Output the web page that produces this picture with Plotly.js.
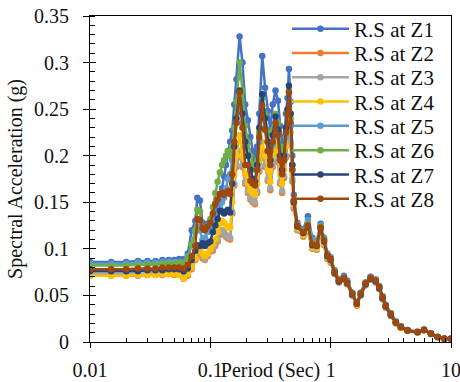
<!DOCTYPE html>
<html>
<head>
<meta charset="utf-8">
<script src="https://cdn.plot.ly/plotly-3.0.1.min.js"></script>
<style>
  html, body { margin: 0; padding: 0; background: #fff; }
  #chart { width: 460px; height: 382px; }
</style>
</head>
<body>
<div id="chart"></div>
<script>
// Periods (s) at which the response spectra are evaluated
const periods = [
  0.01, 0.015, 0.02, 0.025, 0.03, 0.035, 0.04, 0.045, 0.05, 0.055, 0.06,
  0.065, 0.07, 0.075, 0.078, 0.082, 0.086, 0.09, 0.095, 0.1,
  0.105, 0.11, 0.115, 0.12, 0.125, 0.13, 0.135, 0.14, 0.146, 0.152,
  0.158, 0.165, 0.175, 0.185, 0.195, 0.205, 0.215, 0.225, 0.235, 0.245,
  0.255, 0.27, 0.285, 0.3, 0.315, 0.33, 0.348, 0.365, 0.38, 0.395,
  0.41, 0.425, 0.438, 0.45, 0.465, 0.48, 0.494,
  0.528, 0.592, 0.647, 0.704, 0.764, 0.825, 0.88, 0.939, 1.0, 1.08,
  1.17, 1.29, 1.37, 1.51, 1.65, 1.78, 1.95, 2.15, 2.37, 2.53,
  2.7, 2.87, 3.16, 3.48, 3.83, 4.35, 5.27, 5.97, 6.81, 7.74, 8.8, 10
];

// Spectral acceleration (g) at each zone
const saZ1 = [
  0.086, 0.086, 0.086, 0.087, 0.087, 0.087, 0.088, 0.088, 0.088, 0.089, 0.089,
  0.095, 0.12, 0.13, 0.155, 0.152, 0.128, 0.124, 0.127, 0.13,
  0.135, 0.142, 0.148, 0.155, 0.165, 0.178, 0.19, 0.205, 0.215, 0.227,
  0.255, 0.282, 0.328, 0.300, 0.255, 0.238, 0.220, 0.205, 0.195, 0.21,
  0.245, 0.307, 0.273, 0.248, 0.228, 0.255, 0.270, 0.259, 0.232, 0.21,
  0.22, 0.245, 0.262, 0.293, 0.258, 0.2, 0.158,
  0.128, 0.121, 0.135, 0.112, 0.108, 0.127, 0.112, 0.095, 0.091, 0.077,
  0.067, 0.071, 0.066, 0.053, 0.042, 0.053, 0.064, 0.070, 0.067, 0.060,
  0.049, 0.040, 0.031, 0.022, 0.017, 0.013, 0.011, 0.0135, 0.0093, 0.0056, 0.0037, 0.0036
];
const saZ2 = [
  0.071, 0.071, 0.071, 0.071, 0.072, 0.072, 0.072, 0.073, 0.072, 0.072, 0.068,
  0.071, 0.078, 0.088, 0.095, 0.094, 0.09, 0.088, 0.092, 0.097,
  0.098, 0.103, 0.108, 0.115, 0.118, 0.116, 0.113, 0.111, 0.11, 0.138,
  0.168, 0.188, 0.202, 0.188, 0.17, 0.16, 0.153, 0.15, 0.148, 0.16,
  0.183, 0.203, 0.188, 0.173, 0.163, 0.188, 0.205, 0.193, 0.17, 0.16,
  0.176, 0.198, 0.215, 0.235, 0.212, 0.172, 0.143,
  0.120, 0.113, 0.118, 0.100, 0.099, 0.117, 0.104, 0.089, 0.085, 0.073,
  0.064, 0.067, 0.062, 0.050, 0.039, 0.050, 0.061, 0.067, 0.064, 0.057,
  0.046, 0.037, 0.028, 0.020, 0.015, 0.0118, 0.0103, 0.0125, 0.0086, 0.0052, 0.0034, 0.0034
];
const saZ3 = [
  0.073, 0.073, 0.073, 0.073, 0.074, 0.074, 0.074, 0.075, 0.074, 0.074, 0.070,
  0.073, 0.080, 0.090, 0.098, 0.097, 0.093, 0.089, 0.094, 0.099,
  0.1, 0.105, 0.11, 0.117, 0.12, 0.118, 0.115, 0.113, 0.112, 0.14,
  0.17, 0.19, 0.205, 0.19, 0.172, 0.162, 0.155, 0.152, 0.15, 0.162,
  0.185, 0.205, 0.19, 0.175, 0.165, 0.19, 0.208, 0.195, 0.172, 0.162,
  0.178, 0.2, 0.218, 0.238, 0.215, 0.175, 0.145,
  0.121, 0.114, 0.119, 0.101, 0.100, 0.118, 0.105, 0.090, 0.086, 0.073,
  0.064, 0.067, 0.062, 0.050, 0.040, 0.050, 0.061, 0.067, 0.064, 0.057,
  0.046, 0.037, 0.029, 0.020, 0.0155, 0.012, 0.0104, 0.0126, 0.0087, 0.0052, 0.0035, 0.0034
];
const saZ4 = [
  0.071, 0.071, 0.071, 0.072, 0.072, 0.072, 0.073, 0.073, 0.073, 0.072, 0.068,
  0.073, 0.080, 0.090, 0.099, 0.098, 0.095, 0.092, 0.095, 0.1,
  0.105, 0.11, 0.118, 0.127, 0.13, 0.128, 0.125, 0.123, 0.123, 0.15,
  0.18, 0.2, 0.222, 0.2, 0.18, 0.17, 0.163, 0.16, 0.158, 0.17,
  0.195, 0.215, 0.2, 0.185, 0.172, 0.2, 0.22, 0.205, 0.18, 0.17,
  0.185, 0.21, 0.23, 0.25, 0.225, 0.18, 0.148,
  0.122, 0.115, 0.12, 0.102, 0.101, 0.119, 0.106, 0.091, 0.087, 0.074,
  0.065, 0.068, 0.063, 0.051, 0.040, 0.051, 0.062, 0.068, 0.065, 0.058,
  0.047, 0.038, 0.029, 0.020, 0.0155, 0.012, 0.0105, 0.0127, 0.0088, 0.0053, 0.0035, 0.0035
];
const saZ5 = [
  0.084, 0.084, 0.084, 0.085, 0.085, 0.085, 0.086, 0.086, 0.086, 0.086, 0.086,
  0.092, 0.105, 0.118, 0.124, 0.12, 0.11, 0.112, 0.118, 0.122,
  0.128, 0.135, 0.14, 0.145, 0.15, 0.155, 0.165, 0.175, 0.18, 0.195,
  0.215, 0.235, 0.255, 0.235, 0.21, 0.2, 0.185, 0.175, 0.172, 0.185,
  0.215, 0.245, 0.23, 0.205, 0.19, 0.212, 0.235, 0.22, 0.195, 0.182,
  0.195, 0.22, 0.238, 0.258, 0.232, 0.185, 0.15,
  0.127, 0.12, 0.131, 0.11, 0.107, 0.125, 0.111, 0.094, 0.090, 0.076,
  0.067, 0.070, 0.065, 0.053, 0.042, 0.053, 0.064, 0.070, 0.067, 0.060,
  0.049, 0.040, 0.031, 0.022, 0.017, 0.013, 0.011, 0.0133, 0.0092, 0.0055, 0.0037, 0.0036
];
const saZ6 = [
  0.082, 0.082, 0.082, 0.083, 0.083, 0.083, 0.084, 0.084, 0.084, 0.085, 0.085,
  0.09, 0.105, 0.12, 0.142, 0.14, 0.122, 0.12, 0.125, 0.132,
  0.145, 0.16, 0.172, 0.182, 0.19, 0.195, 0.2, 0.205, 0.2, 0.21,
  0.23, 0.258, 0.300, 0.27, 0.232, 0.215, 0.2, 0.19, 0.185, 0.195,
  0.225, 0.262, 0.245, 0.225, 0.205, 0.228, 0.245, 0.235, 0.21, 0.195,
  0.205, 0.23, 0.248, 0.27, 0.24, 0.19, 0.152,
  0.126, 0.119, 0.127, 0.107, 0.105, 0.124, 0.110, 0.094, 0.090, 0.076,
  0.066, 0.069, 0.064, 0.052, 0.041, 0.052, 0.063, 0.069, 0.066, 0.059,
  0.048, 0.039, 0.030, 0.021, 0.016, 0.0125, 0.0107, 0.013, 0.009, 0.0054, 0.0036, 0.0036
];
const saZ7 = [
  0.076, 0.076, 0.076, 0.076, 0.077, 0.077, 0.077, 0.078, 0.078, 0.078, 0.076,
  0.079, 0.088, 0.098, 0.104, 0.103, 0.106, 0.103, 0.106, 0.108,
  0.118, 0.125, 0.132, 0.141, 0.14, 0.138, 0.14, 0.142, 0.139, 0.17,
  0.21, 0.24, 0.27, 0.245, 0.215, 0.2, 0.185, 0.175, 0.172, 0.19,
  0.23, 0.266, 0.24, 0.215, 0.195, 0.222, 0.242, 0.228, 0.2, 0.185,
  0.2, 0.23, 0.25, 0.275, 0.245, 0.19, 0.15,
  0.124, 0.117, 0.124, 0.104, 0.103, 0.122, 0.108, 0.092, 0.088, 0.074,
  0.065, 0.068, 0.063, 0.051, 0.041, 0.051, 0.062, 0.068, 0.065, 0.058,
  0.047, 0.038, 0.029, 0.021, 0.016, 0.0123, 0.0105, 0.0128, 0.0088, 0.0053, 0.0035, 0.0035
];
const saZ8 = [
  0.078, 0.078, 0.078, 0.079, 0.079, 0.079, 0.080, 0.080, 0.080, 0.080, 0.079,
  0.083, 0.092, 0.103, 0.132, 0.131, 0.122, 0.12, 0.124, 0.128,
  0.138, 0.148, 0.153, 0.159, 0.16, 0.158, 0.16, 0.162, 0.159, 0.18,
  0.215, 0.235, 0.268, 0.23, 0.19, 0.19, 0.173, 0.17, 0.168, 0.185,
  0.22, 0.254, 0.228, 0.205, 0.19, 0.215, 0.235, 0.222, 0.195, 0.18,
  0.195, 0.225, 0.245, 0.268, 0.235, 0.185, 0.152,
  0.125, 0.118, 0.125, 0.105, 0.104, 0.123, 0.109, 0.093, 0.089, 0.075,
  0.066, 0.069, 0.064, 0.052, 0.041, 0.052, 0.063, 0.069, 0.066, 0.059,
  0.048, 0.039, 0.030, 0.021, 0.016, 0.0125, 0.0107, 0.013, 0.009, 0.0054, 0.0036, 0.0036
];

const seriesNames = ["R.S at Z1", "R.S at Z2", "R.S at Z3", "R.S at Z4",
                     "R.S at Z5", "R.S at Z6", "R.S at Z7", "R.S at Z8"];
const seriesValues = [saZ1, saZ2, saZ3, saZ4, saZ5, saZ6, saZ7, saZ8];
const seriesColors = ["#4472C4", "#ED7D31", "#A5A5A5", "#FFC000",
                      "#5B9BD5", "#70AD47", "#264478", "#9E480E"];

const xTickVals = [0.01, 0.1, 1, 10];
const xTickText = ["0.01", "0.1", "1", "10"];
const xMinorVals = [0.02, 0.03, 0.04, 0.05, 0.06, 0.07, 0.08, 0.09,
                    0.2, 0.3, 0.4, 0.5, 0.6, 0.7, 0.8, 0.9,
                    2, 3, 4, 5, 6, 7, 8, 9];

const serif = '"Liberation Serif", "Times New Roman", serif';
const ink = "#111";

// One legend per series so the rows can sit at a tight, even pitch
const legendIds = ["legend", "legend2", "legend3", "legend4",
                   "legend5", "legend6", "legend7", "legend8"];
const legendTop = 29;     // px from top of page, first row centre
const legendPitch = 24.3; // px between rows
const plotTop = 15, plotBottom = 342;

const traces = seriesValues.map((vals, i) => ({
  type: "scatter",
  mode: "lines+markers",
  name: seriesNames[i],
  legend: legendIds[i],
  x: periods,
  y: vals,
  line: { color: seriesColors[i], width: 2.5 },
  marker: { color: seriesColors[i], size: 6.5 }
}));

// Empty helper trace that carries the overlay axes (inner half of the major ticks)
traces.push({
  type: "scatter", mode: "markers", x: [], y: [],
  xaxis: "x2", yaxis: "y2", showlegend: false, hoverinfo: "skip"
});

const layout = {
  width: 460,
  height: 382,
  margin: { l: 90, r: 9, t: 15, b: 40, pad: 0 },
  paper_bgcolor: "#fff",
  plot_bgcolor: "#fff",
  font: { family: serif, size: 20, color: ink },
  showlegend: true,
  xaxis: {
    type: "log",
    range: [-2, 1],
    tickvals: xTickVals,
    ticktext: xTickText,
    ticks: "outside",
    ticklen: 5,
    tickcolor: "#000",
    ticklabeloverflow: "allow",
    ticklabelstandoff: 5,
    showline: true,
    linecolor: "#000",
    linewidth: 1,
    mirror: true,
    showgrid: false,
    zeroline: false,
    tickfont: { family: serif, size: 20, color: ink },
    minor: { tickvals: xMinorVals, ticks: "inside", ticklen: 4, tickcolor: "#000", showgrid: false }
  },
  xaxis2: {
    type: "log",
    overlaying: "x",
    anchor: "y2",
    side: "bottom",
    range: [-2, 1],
    tickvals: xTickVals,
    ticks: "inside",
    ticklen: 5,
    tickcolor: "#000",
    showticklabels: false,
    showline: false,
    showgrid: false,
    zeroline: false,
    title: { text: "Period (Sec)", standoff: 21, font: { family: serif, size: 20, color: ink } }
  },
  yaxis: {
    range: [0, 0.35],
    dtick: 0.05,
    ticks: "outside",
    ticklen: 6,
    tickcolor: "#000",
    showline: true,
    linecolor: "#000",
    linewidth: 1,
    mirror: true,
    showgrid: false,
    zeroline: false,
    ticklabelstandoff: 10,
    tickfont: { family: serif, size: 20, color: ink },
    minor: { ticks: "inside", ticklen: 5, tickcolor: "#000", dtick: 0.01, showgrid: false },
    title: { text: "Spectral Acceleration (g)", standoff: 6, font: { family: serif, size: 20, color: ink } }
  },
  yaxis2: {
    overlaying: "y",
    anchor: "x2",
    side: "left",
    range: [0, 0.35],
    dtick: 0.05,
    ticks: "inside",
    ticklen: 6,
    tickcolor: "#000",
    showticklabels: false,
    showline: false,
    showgrid: false,
    zeroline: false
  }
};

const plotH = plotBottom - plotTop;
legendIds.forEach((id, i) => {
  const cy = legendTop + i * legendPitch;
  layout[id] = {
    x: 0.5456, xanchor: "left",
    y: (plotBottom - cy) / plotH, yanchor: "middle",
    bgcolor: "rgba(0,0,0,0)",
    borderwidth: 0,
    itemwidth: 57,
    font: { family: serif, size: 21, color: ink }
  };
});

Plotly.newPlot("chart", traces, layout, { staticPlot: true, displayModeBar: false });
</script>
</body>
</html>
